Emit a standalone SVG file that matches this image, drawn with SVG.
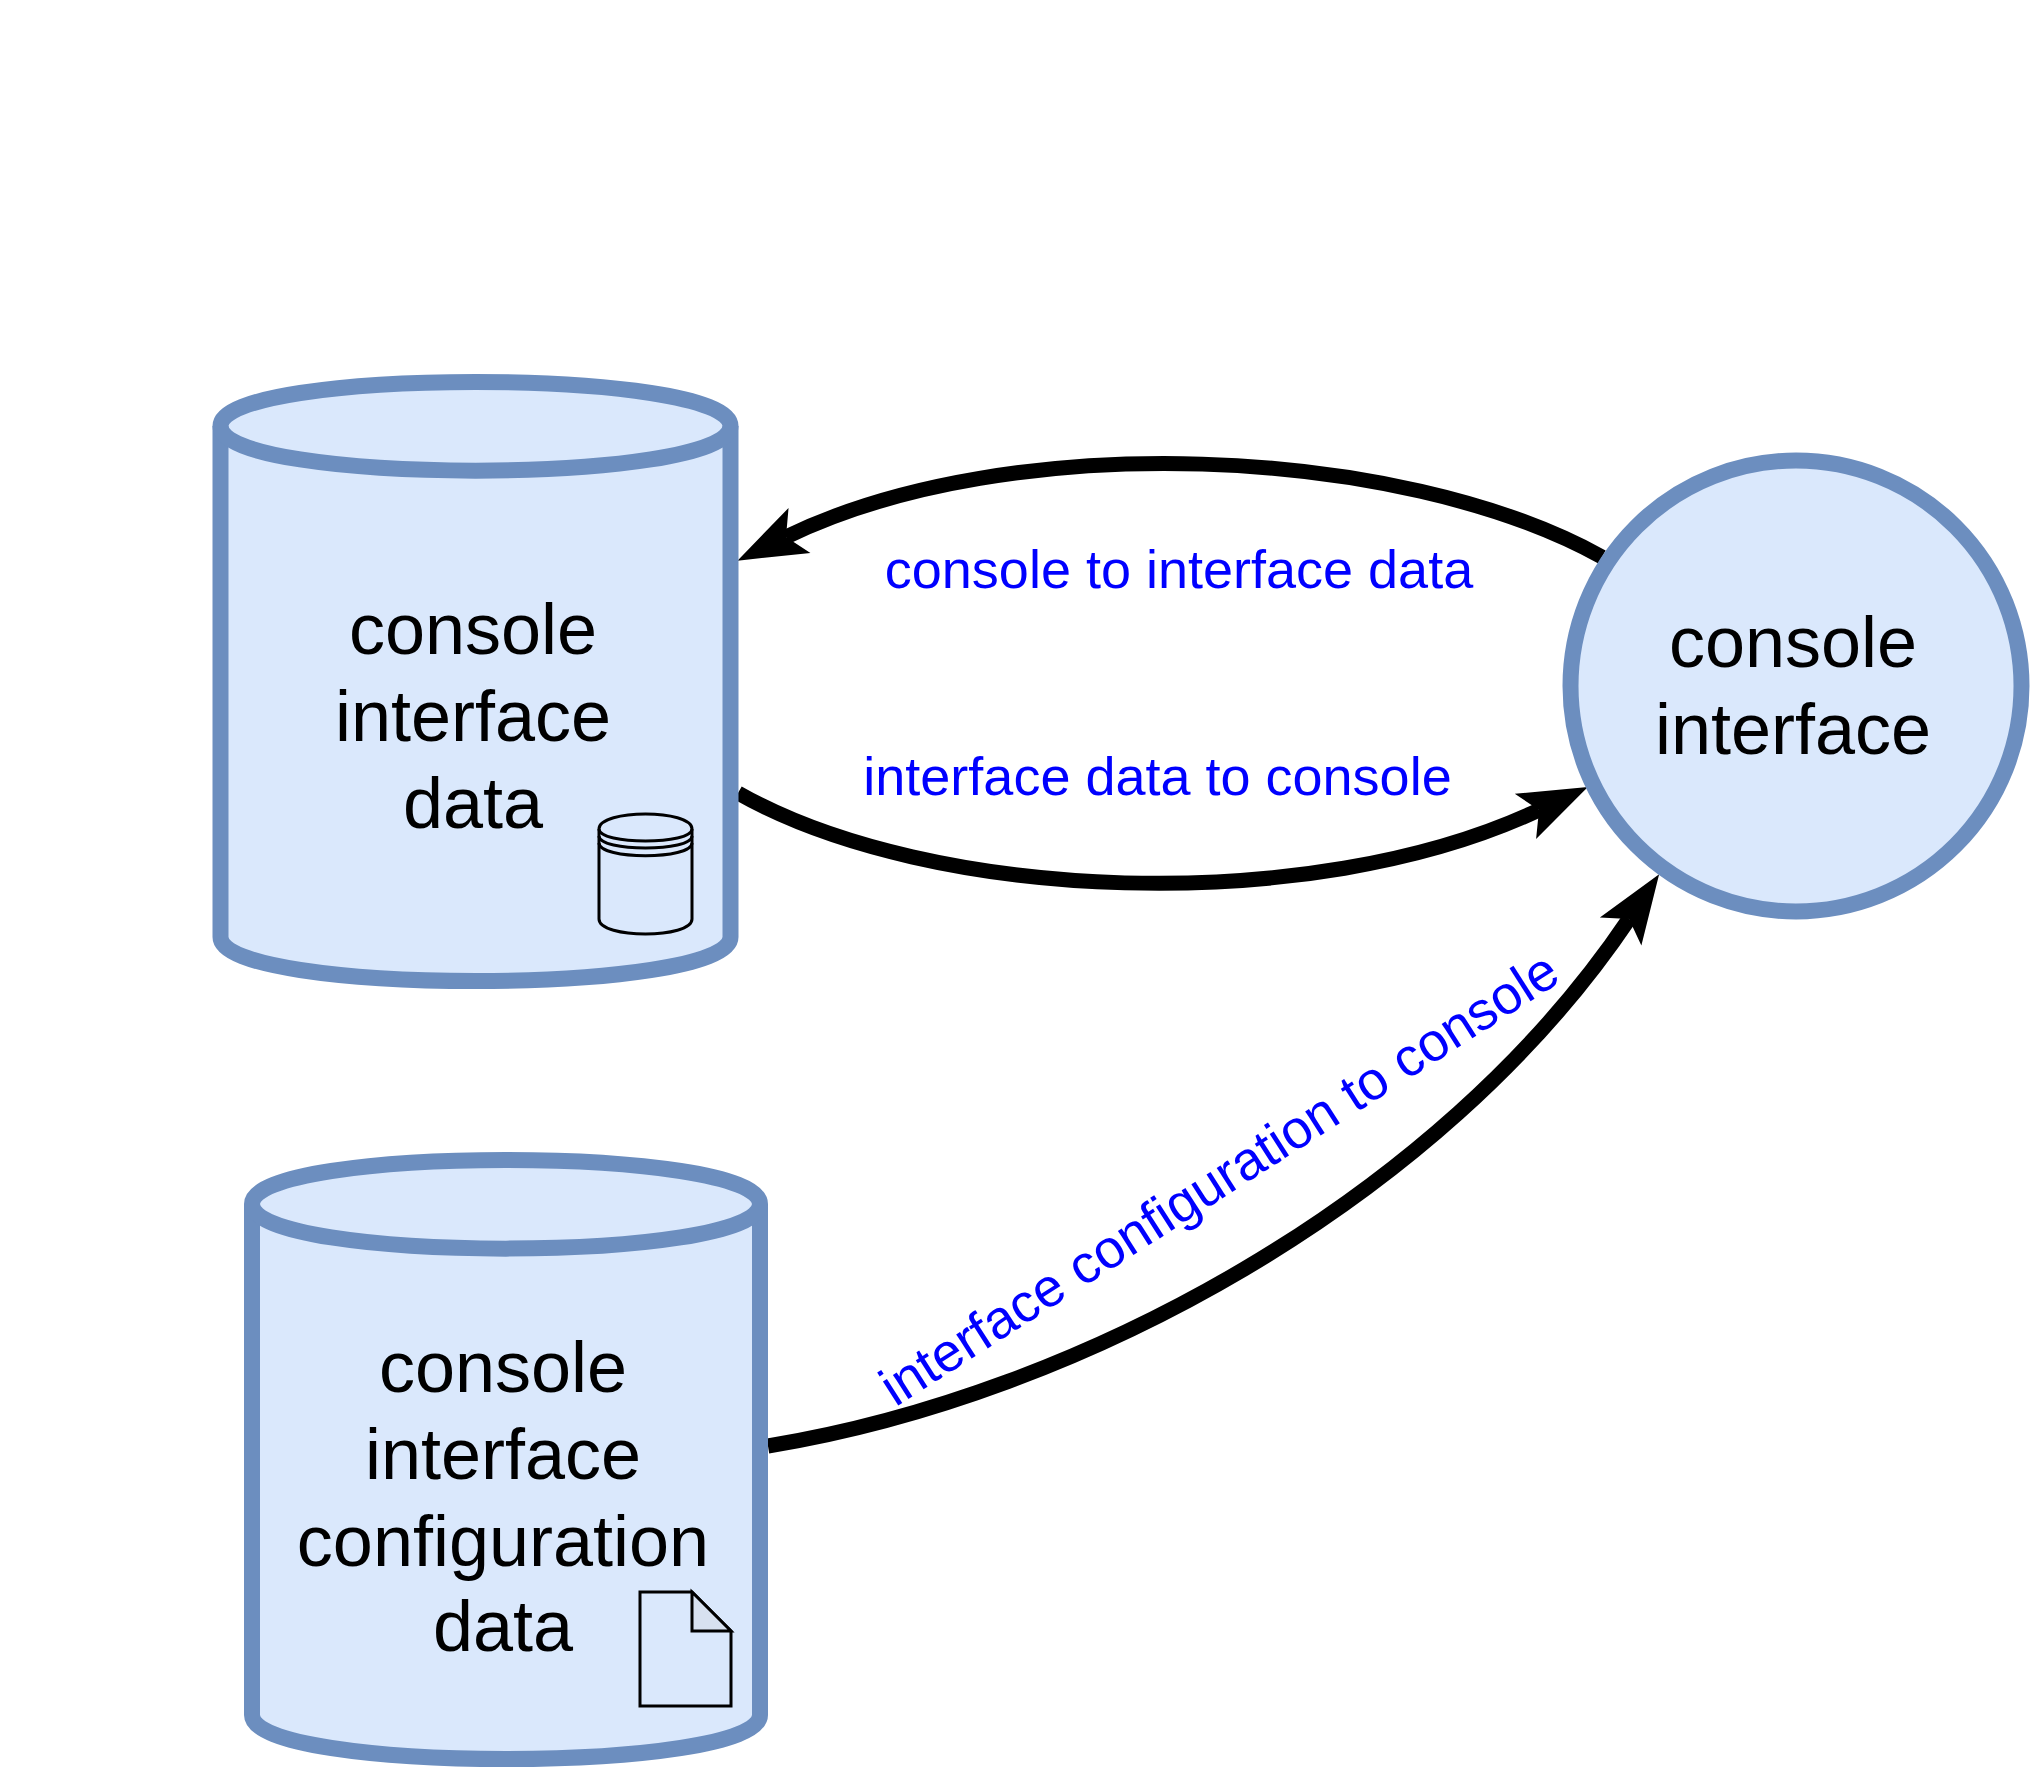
<svg xmlns="http://www.w3.org/2000/svg" width="2031" height="1770" viewBox="0 0 2031 1770">
<style>
.shape{fill:#dae8fc;stroke:#6c8ebf;stroke-width:16;stroke-linejoin:round}
.rim{fill:none;stroke:#6c8ebf;stroke-width:16}
.icon{fill:none;stroke:#000;stroke-width:3}
.t{font-family:"Liberation Sans",Arial,sans-serif;font-size:72px;fill:#000;text-anchor:middle}
.l{font-family:"Liberation Sans",Arial,sans-serif;font-size:54px;fill:#0000ff;text-anchor:middle}
.c{fill:none;stroke:#000;stroke-width:15;marker-end:url(#head)}
</style>
<defs>
<marker id="head" markerUnits="userSpaceOnUse" markerWidth="80" markerHeight="60" refX="0" refY="0" viewBox="-20 -30 80 60" orient="auto" overflow="visible">
<path d="M54,0 L-15,-25 L0,0 L-15,25 Z" fill="#000"/>
</marker>
</defs>
<rect width="2031" height="1770" fill="#fff"/>
<g id="connectors">
<path class="c" d="M1602,557 C1400,445 1010,428 786,537"/>
<path class="c" d="M738,793 C930,902 1310,918 1539,810"/>
<path class="c" d="M768,1446 C1080,1395 1440,1200 1629,919"/>
</g>
<g id="node-console-interface-data">
<path class="shape" d="M220.500,426 C220.500,367.300 730.500,367.300 730.500,426 L730.500,937 C730.500,995.700 220.500,995.700 220.500,937 Z"/>
<path class="rim" d="M220.500,426 C220.500,485.500 730.500,485.500 730.500,426"/>
<text class="t" x="473" y="654">console</text>
<text class="t" x="473" y="741">interface</text>
<text class="t" x="473" y="828">data</text>
<g id="icon-jar" class="icon">
<path d="M599,829 C599,809 692,809 692,829 L692,919 C692,939 599,939 599,919 Z"/>
<path d="M599,829 C599,845 692,845 692,829 M599,836 C599,852 692,852 692,836 M599,843 C599,860 692,860 692,843"/>
</g>
</g>
<g id="node-console-interface-configuration-data">
<path class="shape" d="M252,1204 C252,1145.300 760,1145.300 760,1204 L760,1715 C760,1773.700 252,1773.700 252,1715 Z"/>
<path class="rim" d="M252,1204 C252,1263.500 760,1263.500 760,1204"/>
<text class="t" x="503" y="1392">console</text>
<text class="t" x="503" y="1479">interface</text>
<text class="t" x="503" y="1566">configuration</text>
<text class="t" x="503" y="1651">data</text>
<g id="icon-doc" class="icon">
<path d="M640,1592 L692,1592 L731,1631 L731,1706 L640,1706 Z"/>
<path d="M692,1592 L692,1631 L731,1631 Z" style="fill:#d7e1f0"/>
</g>
</g>
<g id="node-console-interface">
<circle class="shape" cx="1796" cy="686" r="225.500"/>
<text class="t" x="1793" y="667">console</text>
<text class="t" x="1793" y="754">interface</text>
</g>
<g id="labels">
<text class="l" x="1179" y="588">console to interface data</text>
<text class="l" x="1157.500" y="795">interface data to console</text>
<text class="l" transform="translate(1229,1194) rotate(-32.6)">interface configuration to console</text>
</g>
</svg>
